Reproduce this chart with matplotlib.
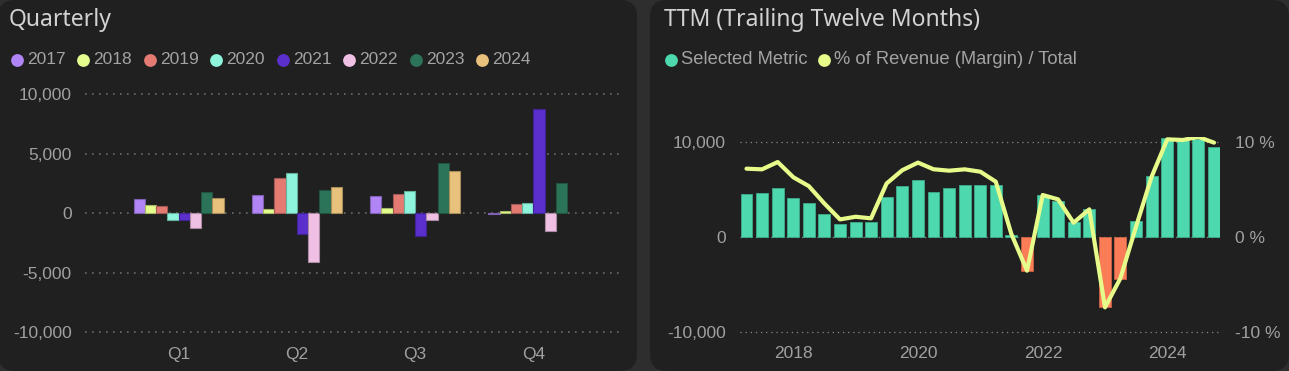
import matplotlib
matplotlib.use("Agg")
import matplotlib.pyplot as plt
import numpy as np
import pandas as pd
import matplotlib.dates as mdates
from matplotlib.patches import FancyBboxPatch
from matplotlib.ticker import FixedLocator, FuncFormatter

# ---------------- data ----------------
quarters = ["Q1", "Q2", "Q3", "Q4"]
years = ["2017", "2018", "2019", "2020", "2021", "2022", "2023", "2024"]
year_colors = ["#b285f7", "#e4fd8e", "#e37b73", "#8ff4dc",
               "#5a2fcc", "#efc0e3", "#2c7459", "#e8c27c"]
q_2017 = [1200, 1540, 1460, -100]
q_2018 = [700, 310, 450, 200]
q_2019 = [620, 2970, 1600, 780]
q_2020 = [-590, 3330, 1880, 810]
q_2021 = [-600, -1790, -1880, 8740]
q_2022 = [-1230, -4090, -560, -1460]
q_2023 = [1740, 1960, 4200, 2550]
q_2024 = [1230, 2160, 3560, np.nan]
quarterly = [q_2017, q_2018, q_2019, q_2020, q_2021, q_2022, q_2023, q_2024]
left_ticks = [-10000, -5000, 0, 5000, 10000]

ttm_start = "2017Q1"
ttm_values = [4490, 4560, 5090, 4070, 3580, 2350, 1300, 1580, 1510, 4140,
              5300, 5930, 4740, 5090, 5400, 5400, 5400, 210, -3580, 4420,
              3790, 1540, 2910, -7370, -4420, 1650, 6420, 10420, 10180, 10280, 9470]
margin_pct = [7.16, 7.09, 7.86, 6.25, 5.33, 3.5, 1.82, 2.1, 1.93, 5.6,
              7.0, 7.8, 7.1, 6.95, 7.09, 6.84, 5.79, 0.3, -3.58, 4.39,
              3.93, 1.47, 2.88, -7.44, -4.39, 1.0, 6.3, 10.25, 10.18, 10.5, 9.9]
right_ticks = [-10000, 0, 10000]
pct_ticks = [-10, 0, 10]
legend_right = ["Selected Metric", "% of Revenue (Margin) / Total"]
pos_color = "#4dd8ae"
neg_color = "#fb7d58"
line_color = "#e6fb8a"

# ---------------- style ----------------
W, H = 1289, 371
plt.rcParams["font.family"] = ["Liberation Sans", "DejaVu Sans"]
BG_GAP = "#2e2e2e"
PANEL = "#202020"
TITLE_C = "#d2d2d2"
TEXT_C = "#a3a3a3"
TICK_C = "#a0a0a0"
GRID_C = "#6b6b6b"
FS = 12.5

fig = plt.figure(figsize=(W / 100, H / 100), dpi=100, facecolor=BG_GAP)


def fx(px):
    return px / W


def fy(py):
    return 1 - py / H


def box(x0, x1, ytop, ybot):
    return [fx(x0), fy(ybot), fx(x1) - fx(x0), fy(ytop) - fy(ybot)]


# background panels / titles / legends
bg = fig.add_axes([0, 0, 1, 1], zorder=0)
bg.set_xlim(0, W)
bg.set_ylim(H, 0)
bg.axis("off")
r = 17
for (x0, x1) in [(-2, 637), (650, 1289)]:
    bg.add_patch(FancyBboxPatch((x0 + r, 0 + r), (x1 - x0) - 2 * r, H - 2 * r,
                                boxstyle=f"round,pad={r}", fc=PANEL, ec="none"))

TFS = 16.5
bg.text(9, 19.5, "Quarterly", color=TITLE_C, fontsize=TFS, family=["Noto Sans", "DejaVu Sans"],
        va="center", ha="left")
bg.text(664, 19.5, "TTM (Trailing Twelve Months)", color=TITLE_C, fontsize=TFS,
        family=["Noto Sans", "DejaVu Sans"], va="center", ha="left")

leg_y = 59.5
for i, (yr, c) in enumerate(zip(years, year_colors)):
    mx = 16.5 + i * 66.5
    bg.plot([mx], [leg_y], marker="o", ms=9.2, color=c, mec="none")
    bg.text(mx + 10.5, leg_y, yr, color=TEXT_C, fontsize=FS, va="center", ha="left")

for mx, lab, c in zip([670.5, 824], legend_right, [pos_color, line_color]):
    bg.plot([mx], [leg_y], marker="o", ms=9.2, color=c, mec="none")
    bg.text(mx + 10.5, leg_y, lab, color=TEXT_C, fontsize=13.2, va="center", ha="left")


def darker(hexc, f=0.72):
    rgb = np.array(matplotlib.colors.to_rgb(hexc))
    return tuple(rgb * f)


# ---------------- left chart ----------------
# pixels: x 85..620 ; y 10000 at 94, -10000 at 332.3
px_per_unit = (332.3 - 94) / 20000
ylim_l = 10350
yc = (94 + 332.3) / 2
axL = fig.add_axes(box(85, 620, yc - ylim_l * px_per_unit, yc + ylim_l * px_per_unit), zorder=1)
axL.set_facecolor("none")
axL.set_ylim(-ylim_l, ylim_l)
step = 118.3
axL.set_xlim((85 - 178.5) / step, (620 - 178.5) / step)
xq = np.arange(len(quarters))
bw = 11.25 / step
for j, (vals, c) in enumerate(zip(quarterly, year_colors)):
    axL.bar(xq + (j - 3.5) * bw, vals, width=bw, color=c, edgecolor=darker(c),
            linewidth=0.8, zorder=3)
axL.set_xticks(xq)
axL.set_xticklabels(quarters)
axL.yaxis.set_major_locator(FixedLocator(left_ticks))
axL.yaxis.set_major_formatter(FuncFormatter(lambda v, p: f"{int(v):,}"))
axL.grid(axis="y", color=GRID_C, linestyle=(0, (1, 3.2)), linewidth=1.2, zorder=0)
for s in axL.spines.values():
    s.set_visible(False)
axL.tick_params(axis="both", length=0, colors=TICK_C, labelsize=FS)
axL.tick_params(axis="y", pad=9.5)
axL.tick_params(axis="x", pad=7.5)

# ---------------- right chart ----------------
px_per_unit_r = (331.7 - 141.7) / 20000
ylim_r = 10500
ycr = (141.7 + 331.7) / 2
axR = fig.add_axes(box(740, 1220, ycr - ylim_r * px_per_unit_r, ycr + ylim_r * px_per_unit_r), zorder=1)
axR.set_facecolor("none")
dates = pd.period_range(start=ttm_start, periods=len(ttm_values), freq="Q").to_timestamp(how="end").normalize()
vals = np.array(ttm_values)
cols = [pos_color if v >= 0 else neg_color for v in vals]
axR.bar(dates, vals, width=70, color=cols, edgecolor=[darker(c, 0.8) for c in cols],
        linewidth=0.6, zorder=3)
axR.set_ylim(-ylim_r, ylim_r)
axR.set_xlim(pd.Timestamp("2017-02-21"), pd.Timestamp("2024-11-04"))
axR.xaxis.set_major_locator(mdates.YearLocator(2))
axR.xaxis.set_major_formatter(mdates.DateFormatter("%Y"))
axR.yaxis.set_major_locator(FixedLocator(right_ticks))
axR.yaxis.set_major_formatter(FuncFormatter(lambda v, p: f"{int(v):,}"))
axR.grid(axis="y", color="#8a8a8a", linestyle=(0, (1, 3.1)), linewidth=0.9, zorder=0)
axR.grid(axis="x", visible=False)
for s in axR.spines.values():
    s.set_visible(False)
axR.tick_params(axis="both", length=0, colors=TICK_C, labelsize=FS)
axR.tick_params(axis="y", pad=10)
axR.tick_params(axis="x", pad=7)

axP = axR.twinx()
axP.set_zorder(2)
axP.set_facecolor("none")
axP.plot(dates, margin_pct, color=line_color, linewidth=3.0, solid_joinstyle="round",
         solid_capstyle="round", zorder=4)
axP.set_ylim(-ylim_r / 1000, ylim_r / 1000)
axP.yaxis.set_major_locator(FixedLocator(pct_ticks))
axP.yaxis.set_major_formatter(FuncFormatter(lambda v, p: f"{int(v)} %"))
for s in axP.spines.values():
    s.set_visible(False)
axP.tick_params(axis="y", length=0, colors=TICK_C, labelsize=FS, pad=11)

fig.savefig("out.png", dpi=100, facecolor=BG_GAP)
